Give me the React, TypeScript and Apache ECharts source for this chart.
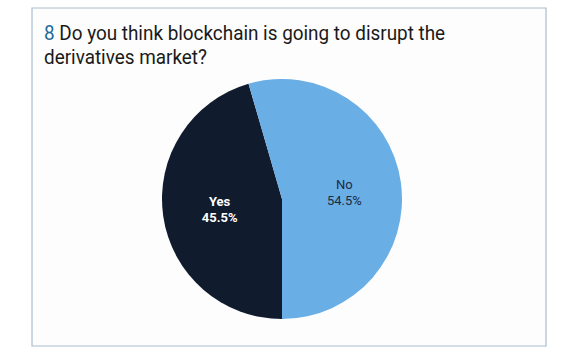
import React, { useEffect, useRef } from "react";
import * as echarts from "echarts";

const categories = ["Yes", "No"];
const values = [45.5, 54.5];
const colors = ["#101c2e", "#6aaee6"];
const questionNumber = "8";
const titleLines = ["Do you think blockchain is going to disrupt the", "derivatives market?"];

export default function App() {
  const ref = useRef<HTMLDivElement>(null);
  useEffect(() => {
    const chart = echarts.init(ref.current!, undefined, { renderer: "svg" });
    const font = "Roboto, 'Liberation Sans', sans-serif";
    chart.setOption({
      animation: false,
      backgroundColor: "#ffffff",
      graphic: [
        {
          type: "rect",
          shape: { x: 32, y: 8, width: 514, height: 338 },
          style: { fill: "#fdfdfd", stroke: "#a9bdcf", lineWidth: 1.2 },
          z: -10,
        },
        {
          type: "group",
          x: 44,
          y: 21,
          scaleX: 0.945,
          children: [
            {
              type: "text",
              x: 0,
              y: 0,
              style: {
                text: `{n|${questionNumber}} ${titleLines[0]}\n${titleLines[1]}`,
                fontFamily: font,
                fontSize: 20,
                fill: "#1a1a1a",
                lineHeight: 24,
                rich: {
                  n: { fontFamily: font, fontSize: 20, fill: "#1f6a98", lineHeight: 24 },
                },
              },
            },
          ],
        },
      ],
      series: [
        {
          type: "pie",
          center: [282, 199],
          radius: [0, 120],
          startAngle: 270,
          clockwise: true,
          label: {
            position: "inside",
            fontFamily: font,
            fontSize: 13,
            lineHeight: 16,
            formatter: (p: any) => `${p.name}\n${p.value.toFixed(1)}%`,
          },
          labelLine: { show: false },
          emphasis: { disabled: true },
          data: categories.map((c, i) => ({
            name: c,
            value: values[i],
            itemStyle: { color: colors[i] },
            label:
              i === 0
                ? { color: "#ffffff", fontWeight: "bold", offset: [0, 2] }
                : { color: "#1c2b44", fontWeight: "normal", offset: [0, 2] },
          })),
        },
      ],
    });
    return () => chart.dispose();
  }, []);
  return (
    <div
      ref={ref}
      style={{ position: "fixed", left: 0, top: 0, width: 580, height: 358 }}
    />
  );
}
